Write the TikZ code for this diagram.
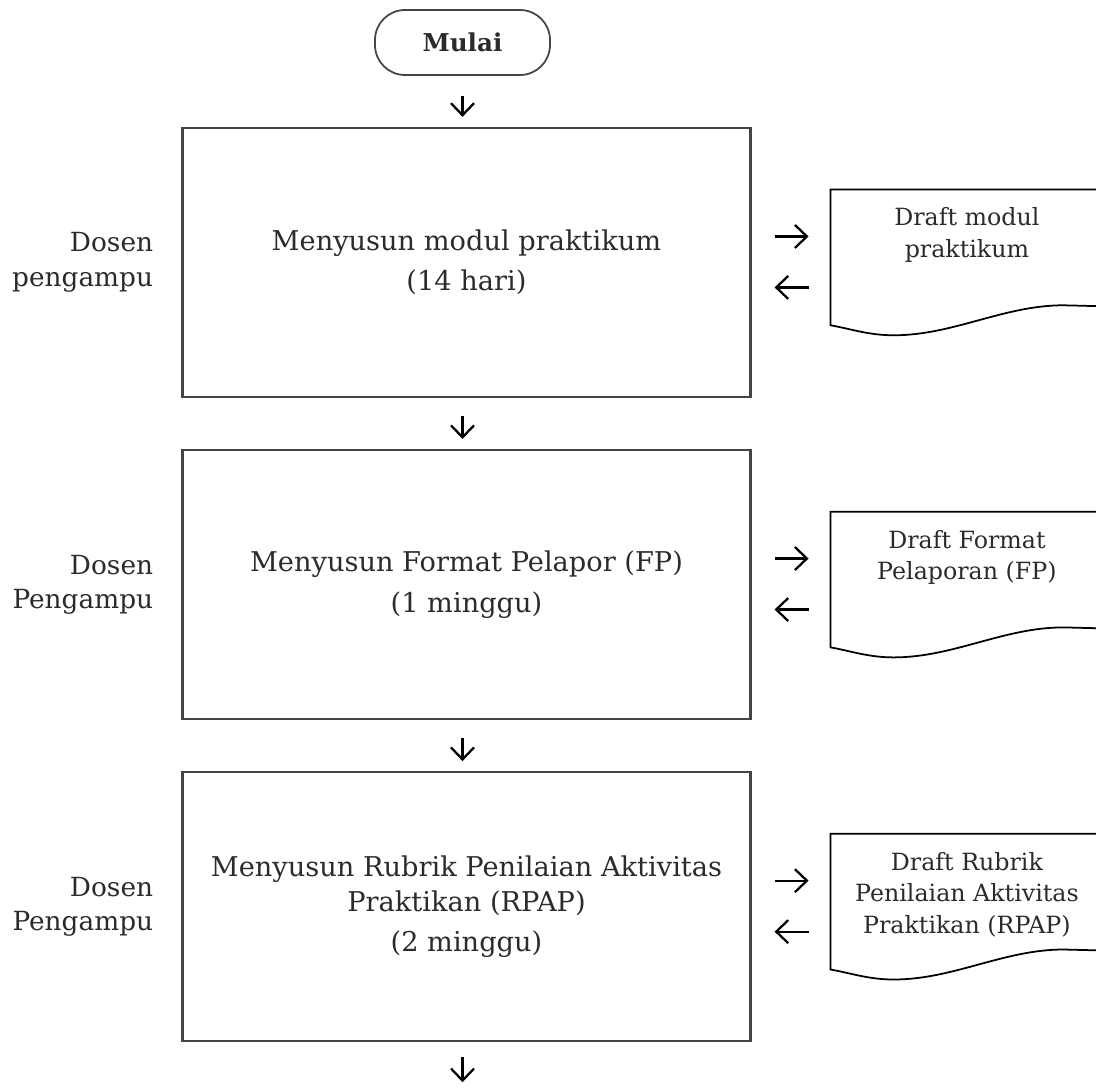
\documentclass[tikz,border=0pt]{standalone}
\usepackage{fontspec}
\setmainfont{DejaVu Serif}
\usetikzlibrary{arrows.meta,positioning}
\definecolor{boxgray}{HTML}{444444}
\definecolor{txtgray}{HTML}{2B2B2B}

\begin{document}
\begin{tikzpicture}[>={Straight Barb[length=0.24cm,width=0.46cm]},node distance=1.02cm]
\tikzset{terminal/.style={draw=boxgray,line width=1pt,rounded corners=0.6cm,minimum width=3.5cm,minimum height=1.3cm,font=\fontsize{14}{17}\selectfont\bfseries,text=txtgray}}
\tikzset{process/.style={draw=boxgray,line width=1.2pt,minimum width=11.36cm,minimum height=5.38cm,align=center,font=\fontsize{15.5}{20}\selectfont,text=txtgray}}
\tikzset{actor/.style={align=right,font=\fontsize{15}{19.5}\selectfont,text=txtgray,inner sep=0pt}}
\tikzset{docbox/.style={minimum width=5.44cm,minimum height=2.9cm,inner sep=0pt}}
\tikzset{doctext/.style={align=center,font=\fontsize{13.5}{18}\selectfont,text=txtgray,inner sep=0pt}}
\tikzset{docline/.style={draw=black,line width=1pt}}
\tikzset{flow/.style={->,line width=1.3pt,black}}

  \node[terminal]       (M)                              {Mulai};
  \useasboundingbox ([shift={(-9.25cm,0.85cm)}]M.center) rectangle ([shift={(12.67cm,-20.89cm)}]M.center);
  \node[process]        (A) [below=of M, xshift=0.08cm]  {Menyusun modul praktikum\\[3pt](14 hari)};
  \node[process]        (B) [below=of A]                 {Menyusun Format Pelapor (FP)\\[3pt](1 minggu)};
  \node[process]        (C) [below=of B]                 {Menyusun Rubrik Penilaian Aktivitas\\Praktikan (RPAP)\\[3pt](2 minggu)};
  \coordinate           (E) at ([yshift=-0.94cm]C.south);

  \node[actor]          (lA) [left=0.56cm of A]          {Dosen\\pengampu};
  \node[actor]          (lB) [left=0.56cm of B]          {Dosen\\Pengampu};
  \node[actor]          (lC) [left=0.56cm of C]          {Dosen\\Pengampu};

  \node[docbox]         (dA) [right=1.58cm of A]         {};
  \node[docbox]         (dB) [right=1.58cm of B]         {};
  \node[docbox]         (dC) [right=1.58cm of C]         {};
  \node[doctext]        (tA) [below=0.36cm of dA.north]  {Draft modul\\praktikum};
  \node[doctext]        (tB) [below=0.36cm of dB.north]  {Draft Format\\Pelaporan (FP)};
  \node[doctext]        (tC) [below=0.36cm of dC.north]  {Draft Rubrik\\Penilaian Aktivitas\\Praktikan (RPAP)};

\path (M.south)       edge [flow, shorten <=0.4cm, shorten >=0.2cm]  (M.south |- A.north)
      (A.south -| M)  edge [flow, shorten <=0.36cm, shorten >=0.2cm] (B.north -| M)
      (B.south -| M)  edge [flow, shorten <=0.36cm, shorten >=0.2cm] (C.north -| M)
      (C.south -| M)  edge [flow, shorten <=0.3cm, shorten >=0.14cm] (E -| M);

\foreach \p/\d in {A/dA,B/dB,C/dC} {
  \path ([yshift=0.52cm]\p.east)  edge [flow, shorten <=0.46cm, shorten >=0.44cm] ([yshift=0.52cm]\d.west)
        ([yshift=-0.5cm]\d.west)  edge [flow, shorten <=0.44cm, shorten >=0.46cm] ([yshift=-0.5cm]\p.east);
  \draw[docline] (\d.north west) -- (\d.north east) -- ([yshift=0.58cm]\d.south east)
        -- ([xshift=4.66cm,yshift=0.6cm]\d.south west)
        .. controls +(-1.2,0) and +(1.2,0) .. ([xshift=1.26cm]\d.south west)
        .. controls +(-0.5,0) and +(0.4,-0.07) .. ([yshift=0.2cm]\d.south west) -- cycle;
}
\end{tikzpicture}
\end{document}
